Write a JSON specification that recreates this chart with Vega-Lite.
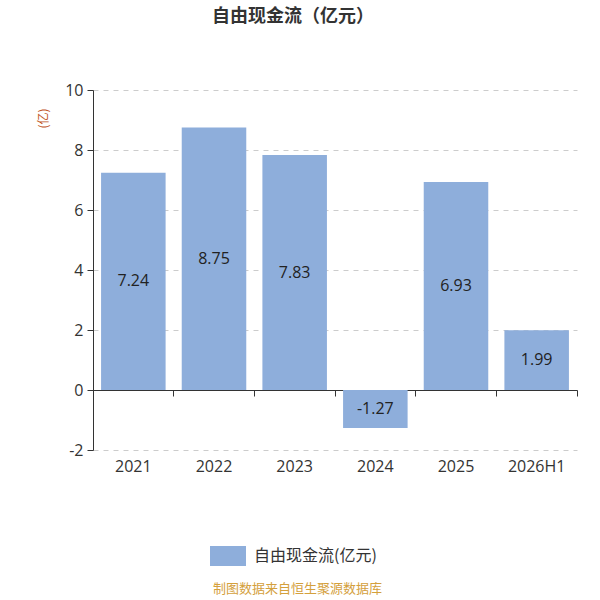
{
  "$schema": "https://vega.github.io/schema/vega-lite/v6.json",
  "width": 484,
  "height": 360,
  "autosize": "none",
  "padding": {"left": 93, "top": 90, "right": 23, "bottom": 150},
  "background": "#ffffff",
  "config": {
    "font": "Noto Sans CJK SC",
    "view": {"stroke": null}
  },
  "title": {
    "text": "自由现金流（亿元）",
    "fontSize": 18,
    "fontWeight": "bold",
    "color": "#333333",
    "anchor": "middle",
    "dx": -42,
    "offset": 56
  },
  "data": {
    "values": [
      {"period": "2021", "value": 7.24},
      {"period": "2022", "value": 8.75},
      {"period": "2023", "value": 7.83},
      {"period": "2024", "value": -1.27},
      {"period": "2025", "value": 6.93},
      {"period": "2026H1", "value": 1.99}
    ]
  },
  "encoding": {
    "x": {
      "field": "period",
      "type": "nominal",
      "sort": null,
      "scale": {"paddingInner": 0.2, "paddingOuter": 0.1}
    }
  },
  "layer": [
    {
      "mark": {"type": "bar", "color": "#8eaedb"},
      "encoding": {
        "x": {
          "field": "period",
          "type": "nominal",
          "sort": null,
          "axis": {
            "orient": "bottom",
            "offset": -60,
            "labels": false,
            "title": null,
            "bandPosition": 1.125,
            "tickSize": 6,
            "domainColor": "#333333",
            "tickColor": "#333333",
            "grid": false
          }
        },
        "y": {
          "field": "value",
          "type": "quantitative",
          "scale": {"domain": [-2, 10], "nice": false},
          "axis": {
            "values": [-2, 0, 2, 4, 6, 8, 10],
            "labelExpr": "replace(datum.label, '−', '-')",
            "title": "(亿)",
            "titleColor": "#c0541e",
            "titleFontSize": 12,
            "titleFontWeight": "normal",
            "titleAlign": "center",
            "titleY": 28,
            "titlePadding": 14,
            "labelFont": "Open Sans",
            "labelFontSize": 16,
            "labelColor": "#333333",
            "labelPadding": 4,
            "tickSize": 6,
            "tickColor": "#333333",
            "domainColor": "#333333",
            "gridColor": "#cccccc",
            "gridDash": [5, 5]
          }
        },
        "color": {
          "datum": "自由现金流(亿元)",
          "scale": {"range": ["#8eaedb"]},
          "legend": {
            "orient": "none",
            "legendX": 117,
            "legendY": 448,
            "title": null,
            "symbolType": "M-1,-0.55 L1,-0.55 L1,0.55 L-1,0.55 Z",
            "symbolSize": 1296,
            "symbolStrokeWidth": 0,
            "labelFontSize": 16,
            "labelColor": "#333333",
            "labelOffset": 8
          }
        }
      }
    },
    {
      "transform": [{"calculate": "datum.value / 2", "as": "mid"}],
      "mark": {"type": "text", "font": "Open Sans", "fontSize": 16, "color": "#222222", "baseline": "middle"},
      "encoding": {
        "x": {
          "field": "period",
          "type": "nominal",
          "sort": null,
          "axis": {
            "orient": "bottom",
            "domain": false,
            "ticks": false,
            "labelAngle": 0,
            "labelFont": "Open Sans",
            "labelFontSize": 16,
            "labelColor": "#333333",
            "labelPadding": 8,
            "title": "制图数据来自恒生聚源数据库",
            "titleColor": "#d4a03c",
            "titleFontSize": 13,
            "titleFontWeight": "normal",
            "titleX": 204,
            "titleAlign": "center",
            "titlePadding": 108,
            "grid": false
          }
        },
        "y": {"field": "mid", "type": "quantitative"},
        "text": {"field": "value", "type": "nominal"}
      }
    }
  ],
  "resolve": {"axis": {"x": "independent"}}
}
